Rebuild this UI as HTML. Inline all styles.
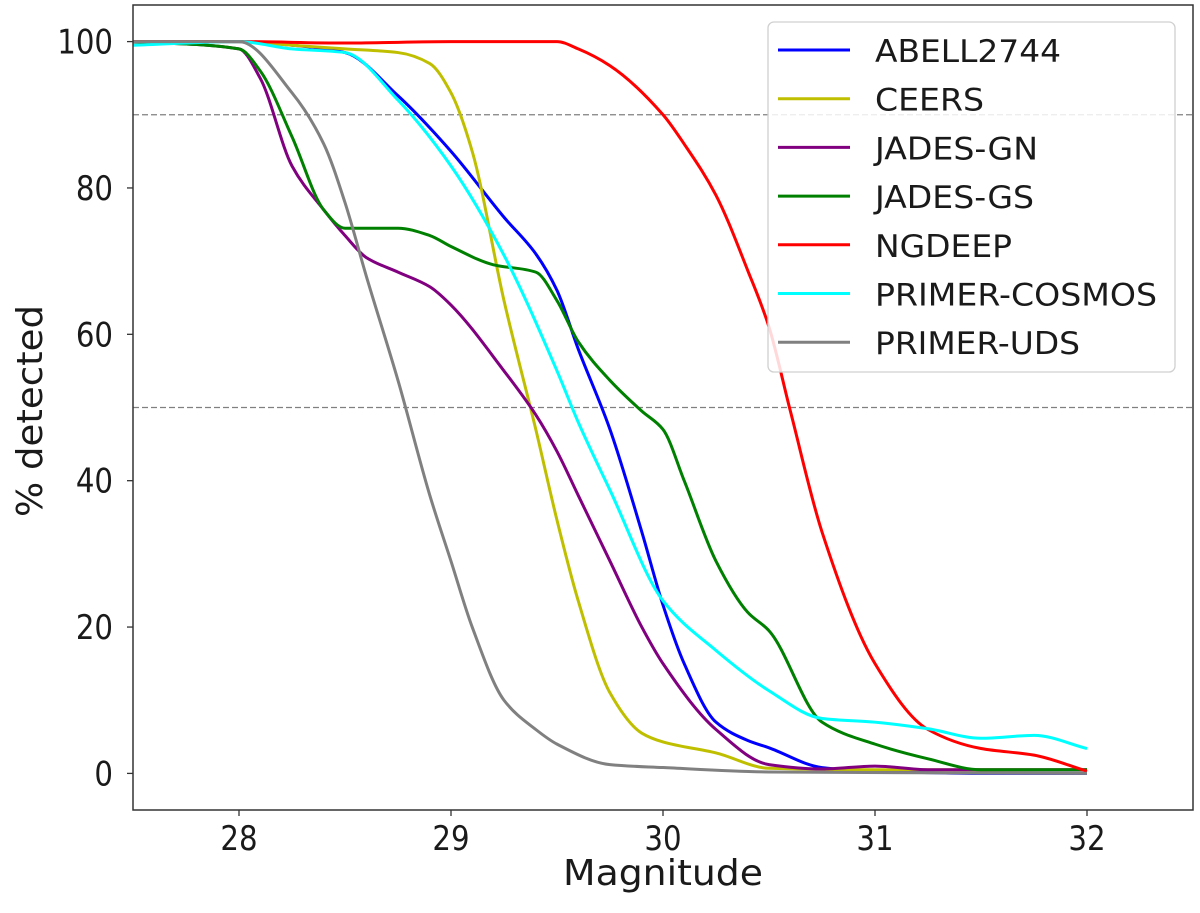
<!DOCTYPE html>
<html><head><meta charset="utf-8"><style>
body{margin:0;background:#fff}
svg text{font-family:"DejaVu Sans","Liberation Sans",sans-serif}
</style></head><body>
<svg id="chart" width="1200" height="908" xmlns="http://www.w3.org/2000/svg"></svg>
<script>
const seriesNames=["ABELL2744","CEERS","JADES-GN","JADES-GS","NGDEEP","PRIMER-COSMOS","PRIMER-UDS"];
const seriesColors=["#0000ff","#bfbf00","#800080","#008000","#ff0000","#00ffff","#808080"];
const xTicks=[28,29,30,31,32];
const yTicks=[0,20,40,60,80,100];
const refLines=[90,50];
const abellX=[27.5,28,28.25,28.5,28.75,29,29.25,29.4,29.5,29.6,29.75,29.9,30,30.1,30.25,30.4,30.5,30.75,31,31.5,32];
const abellY=[100,100,99.5,98.5,92.6,85,76,71,66,58,47,33,23,15,7,4.5,3.5,0.8,0.3,0,0];
const ceersX=[27.5,28,28.25,28.5,28.75,28.9,29,29.1,29.25,29.4,29.5,29.6,29.75,29.9,30,30.25,30.5,31,32];
const ceersY=[100,100,99.5,99,98.5,97,93,85,64.6,47,34.6,23.6,11,5.5,4.3,2.8,0.7,0.5,0.5];
const gnX=[27.5,28,28.1,28.25,28.4,28.5,28.6,28.75,28.9,29,29.25,29.4,29.5,29.6,29.75,29.9,30,30.25,30.5,30.75,31,31.25,32];
const gnY=[100,99,95,83,77,73.5,70.5,68.5,66.5,64,55,49,44,38,29,20,15,6,1.2,0.6,1,0.5,0.5];
const gsX=[27.5,28,28.1,28.25,28.4,28.5,28.75,28.9,29,29.2,29.4,29.5,29.6,29.75,29.9,30,30.1,30.25,30.4,30.5,30.75,31,31.25,31.5,32];
const gsY=[100,99,96,87,77,74.5,74.5,73.5,72,69.5,68.5,64.6,59,53.7,49.5,47,40,29,22,19.5,7,4,2,0.5,0.5];
const ngX=[27.5,28,28.5,29,29.5,29.6,29.75,30,30.1,30.25,30.4,30.5,30.6,30.75,31,31.25,31.5,31.75,32];
const ngY=[100,100,99.8,100,100,99,96.7,90,86,79,68.7,61,49.6,33,15,6,3.4,2.5,0.3];
const cosX=[27.5,28,28.25,28.5,28.75,29,29.25,29.5,29.6,29.75,30,30.25,30.5,30.75,31,31.25,31.5,31.75,32];
const cosY=[99.5,100,99,98.5,92,83,70.8,55,48,38.7,23.6,16.8,11.3,7.5,7,6.1,4.8,5.2,3.4];
const udsX=[27.5,28,28.25,28.4,28.5,28.6,28.75,28.9,29,29.1,29.25,29.4,29.5,29.75,30,30.5,32];
const udsY=[100,100,93,86,78,68,53.7,38,29,20,10,6,4,1.2,0.8,0.2,0];
const allX=[abellX,ceersX,gnX,gsX,ngX,cosX,udsX];
const allY=[abellY,ceersY,gnY,gsY,ngY,cosY,udsY];
const legendWidths=[186,109,163,159,137,282,205];

const L=133,R=1193,T=5,B=810,xmin=27.5,xmax=32.5,ymin=-5,ymax=105;
const sx=v=>L+(v-xmin)/(xmax-xmin)*(R-L);
const sy=v=>B-(v-ymin)/(ymax-ymin)*(B-T);
const NS="http://www.w3.org/2000/svg";
const svg=document.getElementById('chart');
function mk(tag,attrs,parent){const e=document.createElementNS(NS,tag);for(const k in attrs)e.setAttribute(k,attrs[k]);(parent||svg).appendChild(e);return e;}
function txt(str,x,y,anchor,size,parent,rot){
  const t=mk('text',{x:0,y:0,'text-anchor':anchor,'font-size':size,fill:'#1a1a1a',
    transform:'translate('+x+','+y+')'+(rot?' rotate(-90)':'')+' scale(0.86,1)'},parent);
  t.textContent=str;return t;
}
function txtW(str,x,y,anchor,size,w,parent,rot){
  const t=mk('text',{x:0,y:0,'text-anchor':anchor,'font-size':size,fill:'#1a1a1a',textLength:w,lengthAdjust:'spacingAndGlyphs',
    transform:'translate('+x+','+y+')'+(rot?' rotate(-90)':'')},parent);
  t.textContent=str;return t;
}

refLines.forEach(v=>{
  const l=mk('line',{x1:L,x2:R,y1:sy(v),y2:sy(v),stroke:'#808080','stroke-width':1.3,'stroke-dasharray':'6,3'});
  
  
});

function pathFor(xs,ys){
  const p=xs.map((x,i)=>[sx(x),sy(ys[i])]);
  const n=p.length,d=[],m=new Array(n);
  for(let i=0;i<n-1;i++)d.push((p[i+1][1]-p[i][1])/(p[i+1][0]-p[i][0]));
  m[0]=d[0];m[n-1]=d[n-2];
  for(let i=1;i<n-1;i++){
    if(d[i-1]*d[i]<=0)m[i]=0;
    else{const h0=p[i][0]-p[i-1][0],h1=p[i+1][0]-p[i][0];const w1=2*h1+h0,w2=h1+2*h0;m[i]=(w1+w2)/(w1/d[i-1]+w2/d[i]);}
  }
  let s='M'+p[0][0]+','+p[0][1];
  for(let i=0;i<n-1;i++){
    const h=(p[i+1][0]-p[i][0])/3;
    s+=' C'+(p[i][0]+h)+','+(p[i][1]+m[i]*h)+' '+(p[i+1][0]-h)+','+(p[i+1][1]-m[i+1]*h)+' '+p[i+1][0]+','+p[i+1][1];
  }
  return s;
}
allX.forEach((xs,i)=>{
  const pth=mk('path',{d:pathFor(xs,allY[i]),fill:'none',stroke:seriesColors[i],'stroke-width':3,'stroke-linejoin':'round'});
  
  
});

const frame=mk('rect',{x:L,y:T,width:R-L,height:B-T,fill:'none',stroke:'#333','stroke-width':1.5});



xTicks.forEach(v=>{
  mk('line',{x1:sx(v),x2:sx(v),y1:B,y2:B+6,stroke:'#333','stroke-width':1.3});
  const t=txt(String(v),sx(v),850,'middle',34);
  
  
});
yTicks.forEach(v=>{
  mk('line',{x1:L-6,x2:L,y1:sy(v),y2:sy(v),stroke:'#333','stroke-width':1.3});
  const t=txt(String(v),113,sy(v)+12,'end',34);
  
  
});
const xt=txtW('Magnitude',563,885,'start',36,200);


const yt=txtW('% detected',42,517,'start',36,212,null,true);



const lg=mk('g',{});


mk('rect',{x:768,y:22,width:407,height:350,rx:6,fill:'#fff','fill-opacity':0.85,stroke:'#d0d0d0','stroke-width':1.3},lg);
seriesNames.forEach((n,i)=>{
  const y=50+i*48.7;
  mk('line',{x1:778,x2:850,y1:y,y2:y,stroke:seriesColors[i],'stroke-width':3},lg);
  const t=txtW(n,875,y+12,'start',31,legendWidths[i],lg);
  
  
});
</script>
</body></html>
